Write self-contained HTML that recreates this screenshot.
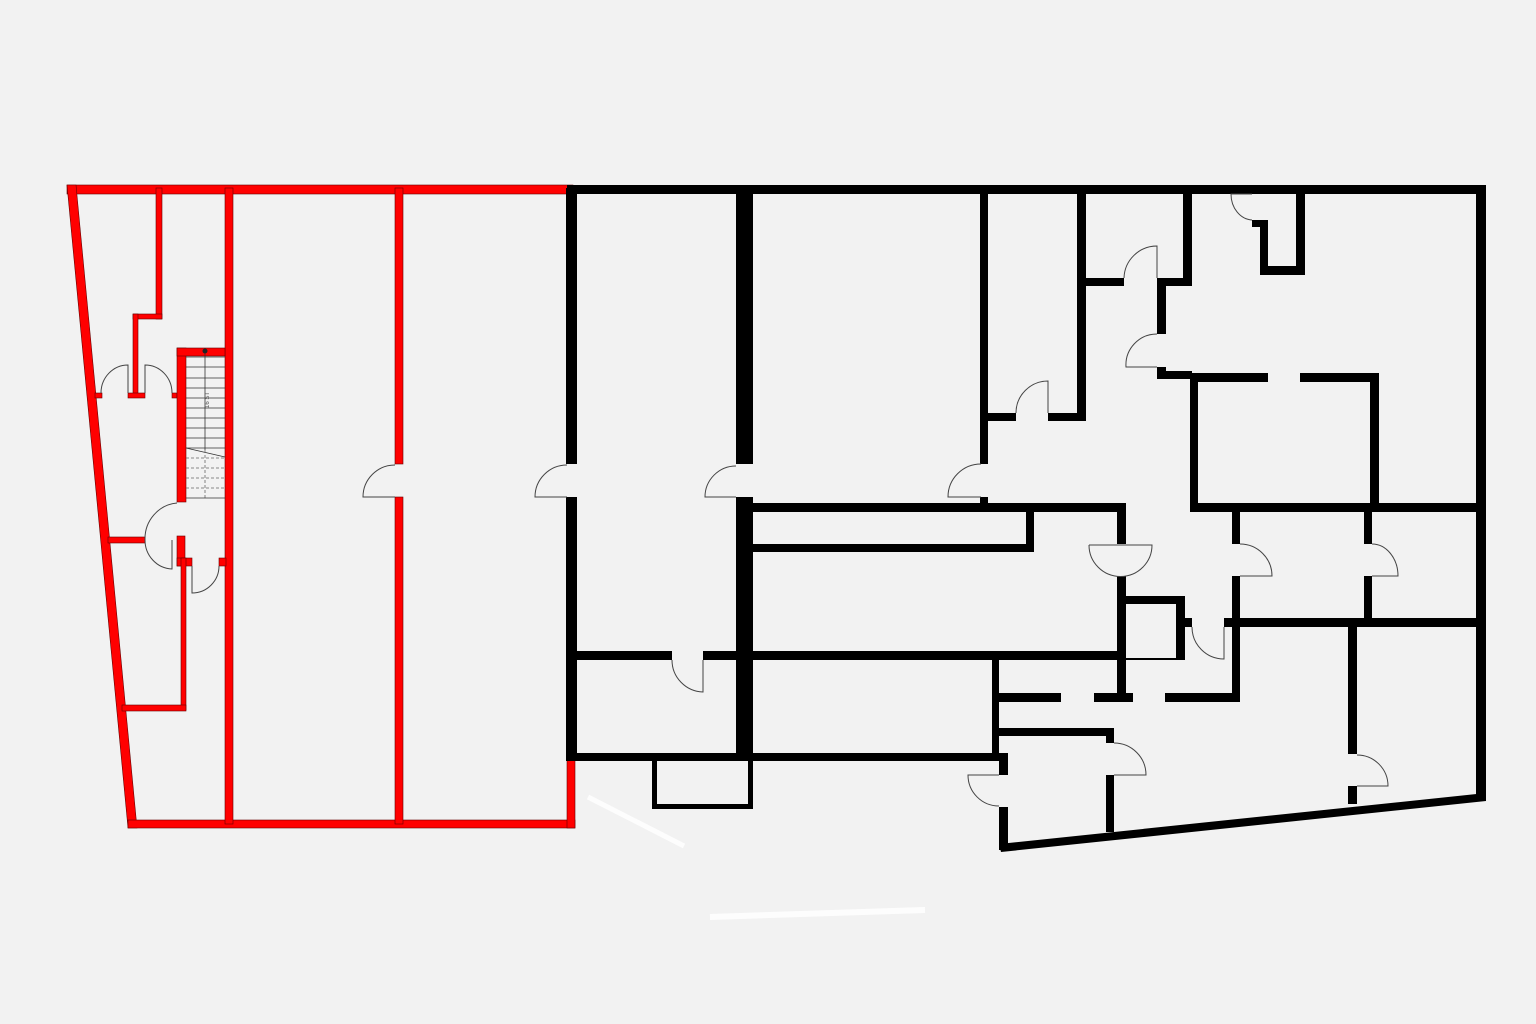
<!DOCTYPE html>
<html><head><meta charset="utf-8"><style>
html,body{margin:0;padding:0;background:#f2f2f2;}
svg{display:block;}
</style></head><body>
<svg width="1536" height="1024" viewBox="0 0 1536 1024" xmlns="http://www.w3.org/2000/svg">
<rect width="1536" height="1024" fill="#f2f2f2"/>
<!-- faint white marks -->
<line x1="588" y1="797" x2="684" y2="846" stroke="#fff" stroke-width="5" opacity="0.9"/>
<line x1="710" y1="917" x2="925" y2="910" stroke="#fff" stroke-width="6" opacity="0.9"/>

<!-- RED WALLS -->
<g fill="#ff0000" stroke="#600" stroke-width="0.6">
<rect x="67" y="185" width="506" height="9"/>
<polygon points="67,185 76,185 137,828 128,828"/>
<rect x="128" y="820" width="447" height="8"/>
<rect x="567" y="752" width="8" height="76"/>
<rect x="225" y="188" width="8" height="636"/>
<rect x="395" y="188" width="8" height="276"/>
<rect x="395" y="497" width="8" height="327"/>
<!-- small rooms -->
<rect x="156" y="188" width="6" height="131"/>
<rect x="133" y="314" width="29" height="5"/>
<rect x="133" y="314" width="5" height="83"/>
<rect x="95" y="393" width="7" height="5"/>
<rect x="128" y="393" width="17" height="5"/>
<rect x="172" y="393" width="5" height="5"/>
<!-- stair enclosure -->
<rect x="177" y="348" width="9" height="154"/>
<rect x="177" y="348" width="48" height="8"/>
<!-- lower rooms -->
<rect x="108" y="537" width="37" height="6"/>
<rect x="177" y="536" width="8" height="30"/>
<rect x="177" y="558" width="15" height="8"/>
<rect x="181" y="558" width="5" height="152"/>
<rect x="122" y="705" width="64" height="6"/>
<rect x="219" y="558" width="7" height="8"/>
</g>

<!-- stairs -->
<g stroke="#333" stroke-width="0.8" fill="none">
<line x1="186" y1="357" x2="225" y2="357"/><line x1="186" y1="367" x2="225" y2="367"/>
<line x1="186" y1="378" x2="225" y2="378"/><line x1="186" y1="388" x2="225" y2="388"/>
<line x1="186" y1="398" x2="225" y2="398"/><line x1="186" y1="408" x2="225" y2="408"/>
<line x1="186" y1="418" x2="225" y2="418"/><line x1="186" y1="428" x2="225" y2="428"/>
<line x1="186" y1="438" x2="225" y2="438"/><line x1="186" y1="448" x2="225" y2="448"/>
<line x1="186" y1="448" x2="225" y2="457"/>
<line x1="205" y1="350" x2="205" y2="450"/>
<g stroke-dasharray="3,2" stroke="#666">
<line x1="186" y1="458" x2="225" y2="458"/><line x1="186" y1="468" x2="225" y2="468"/>
<line x1="186" y1="478" x2="225" y2="478"/><line x1="186" y1="488" x2="225" y2="488"/>
<line x1="205" y1="450" x2="205" y2="500"/>
</g>
<line x1="186" y1="498" x2="225" y2="498"/>
</g>
<circle cx="205" cy="351" r="2.5" fill="#222"/>
<text x="0" y="0" font-family="Liberation Sans, sans-serif" font-size="6" fill="#555" transform="translate(209,408) rotate(-90)">16 ST</text>

<!-- BLACK WALLS -->
<g fill="#000">
<rect x="567" y="185" width="919" height="9"/>
<rect x="1476" y="185" width="10" height="616"/>
<polygon points="999,844 1486,793 1486,801 1001,852"/>
<rect x="566" y="188" width="11" height="276"/>
<rect x="566" y="497" width="11" height="264"/>
<rect x="736" y="188" width="17" height="276"/>
<rect x="736" y="497" width="17" height="264"/>
<rect x="753" y="503" width="373" height="9"/>
<rect x="753" y="544" width="281" height="8"/>
<rect x="1026" y="503" width="8" height="49"/>
<rect x="577" y="651" width="95" height="9"/>
<rect x="703" y="651" width="423" height="9"/>
<rect x="566" y="753" width="442" height="8"/>
<!-- small box below -->
<rect x="652" y="761" width="5" height="48"/>
<rect x="748" y="761" width="5" height="48"/>
<rect x="652" y="804" width="101" height="5"/>
<!-- wall 981 -->
<rect x="980" y="188" width="8" height="276"/>
<rect x="980" y="497" width="8" height="15"/>
<rect x="988" y="413" width="28" height="8"/>
<rect x="1048" y="413" width="38" height="8"/>
<rect x="1077" y="188" width="9" height="233"/>
<rect x="1086" y="278" width="38" height="8"/>
<rect x="1157" y="278" width="35" height="8"/>
<rect x="1183" y="188" width="9" height="98"/>
<rect x="1157" y="278" width="9" height="56"/>
<rect x="1157" y="367" width="9" height="12"/>
<rect x="1157" y="371" width="35" height="8"/>
<!-- box -->
<rect x="1190" y="373" width="8" height="139"/>
<rect x="1190" y="373" width="78" height="9"/>
<rect x="1300" y="373" width="79" height="9"/>
<rect x="1370" y="373" width="9" height="135"/>
<rect x="1190" y="503" width="296" height="9"/>
<!-- top small -->
<rect x="1296" y="188" width="9" height="87"/>
<rect x="1260" y="266" width="45" height="9"/>
<rect x="1260" y="220" width="8" height="55"/>
<rect x="1252" y="220" width="16" height="7"/>
<!-- center -->
<rect x="1117" y="503" width="9" height="41"/>
<rect x="1117" y="576" width="9" height="125"/>
<rect x="1126" y="596" width="59" height="8"/>
<rect x="1176" y="596" width="9" height="64"/>
<rect x="1126" y="658" width="50" height="2"/>
<rect x="1232" y="512" width="8" height="32"/>
<rect x="1232" y="576" width="8" height="125"/>
<rect x="1183" y="618" width="9" height="9"/>
<rect x="1224" y="618" width="262" height="9"/>
<rect x="1364" y="512" width="8" height="32"/>
<rect x="1364" y="576" width="8" height="45"/>
<rect x="997" y="693" width="64" height="9"/>
<rect x="1094" y="693" width="39" height="9"/>
<rect x="1165" y="693" width="75" height="9"/>
<rect x="992" y="660" width="7" height="93"/>
<rect x="999" y="753" width="9" height="22"/>
<rect x="999" y="807" width="9" height="43"/>
<rect x="999" y="728" width="115" height="8"/>
<rect x="1106" y="728" width="8" height="15"/>
<rect x="1106" y="775" width="8" height="57"/>
<rect x="1348" y="627" width="9" height="127"/>
<rect x="1348" y="786" width="9" height="18"/>
</g>

<!-- DOORS -->
<g fill="none" stroke="#444" stroke-width="1">
<path d="M395,497 L363,497 A32,32 0 0 1 395,465"/>
<path d="M567,497 L535,497 A32,32 0 0 1 567,465"/>
<path d="M736,497 L705,497 A31,31 0 0 1 736,466"/>
<path d="M981,497 L948,497 A33,33 0 0 1 981,464"/>
<path d="M703,660 L703,692 A32,32 0 0 1 672,660"/>
<path d="M1048,413 L1048,381 A32,32 0 0 0 1016,413"/>
<path d="M1157,278 L1157,246 A33,33 0 0 0 1124,278"/>
<path d="M1157,367 L1126,367 A31,31 0 0 1 1157,334"/>
<path d="M1252,194 L1231,194 A22,26 0 0 0 1252,220"/>
<path d="M1089,545 L1152,545 A31.5,31.5 0 0 1 1089,545"/>
<path d="M1240,576 L1272,576 A32,32 0 0 0 1240,544"/>
<path d="M1372,576 L1398,576 A26,32 0 0 0 1372,544"/>
<path d="M1224,627 L1224,659 A32,32 0 0 1 1192,627"/>
<path d="M999,775 L968,775 A31,31 0 0 0 999,806"/>
<path d="M1114,775 L1146,775 A32,32 0 0 0 1114,743"/>
<path d="M1357,786 L1388,786 A31,31 0 0 0 1357,755"/>
<path d="M128,393 L128,365 A27,28 0 0 0 101,393"/>
<path d="M145,393 L145,365 A27,28 0 0 1 172,393"/>
<path d="M177,503 A35,36 0 0 0 145,540 A28,29 0 0 0 172,569 L172,540"/>
<path d="M192,566 L192,593 A27,27 0 0 0 219,566"/>
</g>
</svg>
</body></html>
